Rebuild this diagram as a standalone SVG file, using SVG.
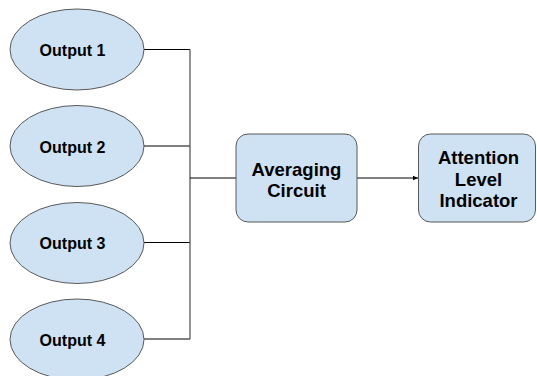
<svg xmlns="http://www.w3.org/2000/svg" width="537" height="376" viewBox="0 0 537 376">
<defs>
<style>
.n{fill:#cfe2f3;stroke:#595959;stroke-width:1}
.t{font-family:"Liberation Sans",Arial,sans-serif;font-weight:bold;fill:#000;text-anchor:middle}
.o{font-size:16px}
.b{font-size:18.5px}
.c{fill:none;stroke:#000;stroke-width:1}
.v{fill:none;stroke:#595959;stroke-width:1.3}
</style>
<marker id="ah" markerWidth="6" markerHeight="6" refX="5" refY="3" orient="auto" markerUnits="userSpaceOnUse">
<path d="M0,0.8 L5,3 L0,5.2 Z" fill="#000"/>
</marker>
</defs>
<rect width="537" height="376" fill="#fff"/>
<g id="connectors">
<path class="c" d="M144,49.5 H190"/>
<path class="c" d="M144,146 H190"/>
<path class="c" d="M144,242.5 H190"/>
<path class="c" d="M144,339 H190"/>
<path class="v" d="M190,49.5 V339"/>
<path class="c" d="M190,178 H236"/>
<path class="c" d="M357,178 H418" marker-end="url(#ah)"/>
</g>
<g id="output1"><ellipse class="n" cx="77" cy="49.5" rx="67" ry="40.5"/><text class="t o" x="72.5" y="56">Output 1</text></g>
<g id="output2"><ellipse class="n" cx="77" cy="146" rx="67" ry="40.5"/><text class="t o" x="72.5" y="152.5">Output 2</text></g>
<g id="output3"><ellipse class="n" cx="77" cy="243" rx="67" ry="40.5"/><text class="t o" x="72.5" y="249">Output 3</text></g>
<g id="output4"><ellipse class="n" cx="77" cy="339.5" rx="67" ry="40.5"/><text class="t o" x="72.5" y="346">Output 4</text></g>
<g id="averaging"><rect class="n" x="236" y="134" width="121" height="88" rx="12"/><text class="t b" x="296.5" y="175.5">Averaging</text><text class="t b" x="296.5" y="196.5">Circuit</text></g>
<g id="indicator"><rect class="n" x="418.5" y="134" width="117" height="88" rx="12"/><text class="t b" x="478.5" y="164">Attention</text><text class="t b" x="478.5" y="185.5">Level</text><text class="t b" x="478.5" y="207">Indicator</text></g>
</svg>
